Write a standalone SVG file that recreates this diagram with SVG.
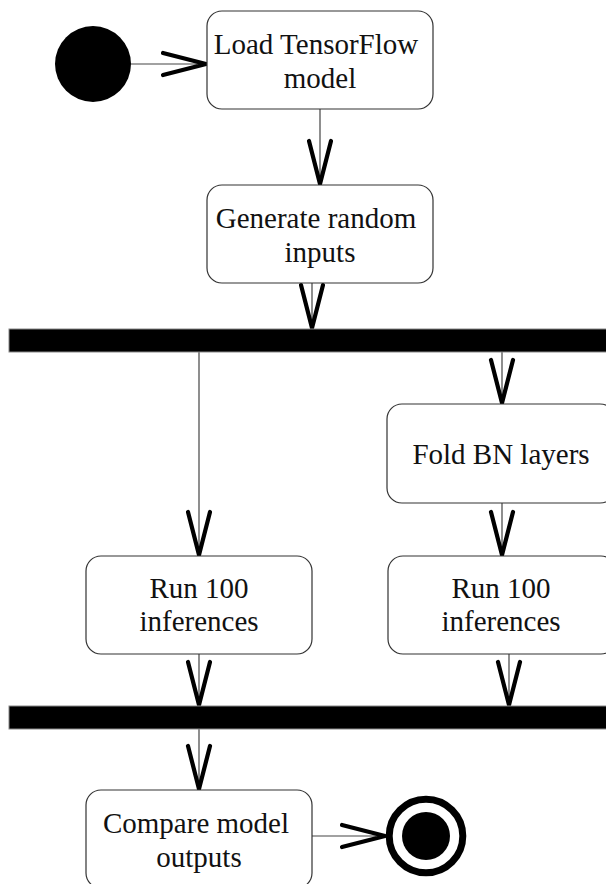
<svg xmlns="http://www.w3.org/2000/svg" width="606" height="884" viewBox="0 0 606 884">
  <defs>
    <style>
      .action rect { fill: #ffffff; stroke: #333333; stroke-width: 1.2; }
      .action text { font-family: "Liberation Serif", "Times New Roman", serif; font-size: 29px; fill: #111111; text-anchor: middle; }
      .bar { fill: #000000; stroke: #888888; stroke-width: 1; }
      .flow { stroke: #444444; stroke-width: 1.2; fill: none; marker-end: url(#vhead); }
    </style>
    <!-- open V arrowhead, drawn in user units so every edge gets the same size -->
    <marker id="vhead" markerUnits="userSpaceOnUse" viewBox="-50 -16 54 32" markerWidth="54" markerHeight="32" refX="0" refY="0" orient="auto" overflow="visible">
      <path d="M -44 -11 L -1 0 L -44 11" fill="none" stroke="#000000" stroke-width="4.2" stroke-linecap="round" stroke-linejoin="round"/>
    </marker>
  </defs>

  <rect width="606" height="884" fill="#ffffff"/>

  <!-- connectors -->
  <g id="connectors">
    <line class="flow" x1="131" y1="64" x2="207" y2="64"/>
    <line class="flow" x1="320" y1="109" x2="320" y2="185"/>
    <line class="flow" x1="312" y1="283" x2="312" y2="329"/>
    <line class="flow" x1="199" y1="352" x2="199" y2="556"/>
    <line class="flow" x1="502" y1="352" x2="502" y2="404"/>
    <line class="flow" x1="502" y1="503" x2="502" y2="556"/>
    <line class="flow" x1="199" y1="654" x2="199" y2="706"/>
    <line class="flow" x1="509" y1="654" x2="509" y2="706"/>
    <line class="flow" x1="199" y1="729" x2="199" y2="790"/>
    <line class="flow" x1="312" y1="836" x2="386" y2="836"/>
  </g>

  <!-- initial node -->
  <g id="start">
    <circle cx="93" cy="64" r="38" fill="#000000"/>
  </g>

  <g id="load-model" class="action">
    <rect x="207" y="11" width="226" height="98" rx="15"/>
    <text x="316" y="54">Load TensorFlow</text>
    <text x="320" y="88">model</text>
  </g>

  <g id="generate-inputs" class="action">
    <rect x="207" y="185" width="226" height="98" rx="15"/>
    <text x="316" y="228">Generate random</text>
    <text x="320" y="262">inputs</text>
  </g>

  <!-- fork bar -->
  <g id="fork">
    <rect class="bar" x="9" y="329" width="610" height="23"/>
  </g>

  <g id="fold-bn" class="action">
    <rect x="387" y="404" width="228" height="99" rx="15"/>
    <text x="501" y="464">Fold BN layers</text>
  </g>

  <g id="run-original" class="action">
    <rect x="86" y="556" width="226" height="98" rx="15"/>
    <text x="199" y="598">Run 100</text>
    <text x="199" y="631">inferences</text>
  </g>

  <g id="run-folded" class="action">
    <rect x="388" y="556" width="228" height="98" rx="15"/>
    <text x="501" y="598">Run 100</text>
    <text x="501" y="631">inferences</text>
  </g>

  <!-- join bar -->
  <g id="join">
    <rect class="bar" x="9" y="706" width="610" height="23"/>
  </g>

  <g id="compare-outputs" class="action">
    <rect x="86" y="790" width="226" height="98" rx="15"/>
    <text x="196" y="833">Compare model</text>
    <text x="199" y="867">outputs</text>
  </g>

  <!-- final node -->
  <g id="end">
    <circle cx="426" cy="836" r="36.8" fill="#ffffff" stroke="#000000" stroke-width="7"/>
    <circle cx="426" cy="836" r="24" fill="#000000"/>
  </g>
</svg>
